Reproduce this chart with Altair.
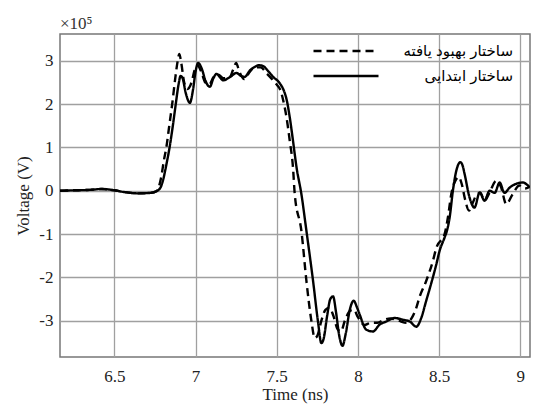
import altair as alt
import pandas as pd

series_names = ["ساختار بهبود یافته", "ساختار ابتدایی"]

t_initial = [6.165, 6.25, 6.35, 6.42, 6.50, 6.56, 6.64, 6.72, 6.76, 6.785, 6.80, 6.82, 6.84, 6.86,
             6.878, 6.895, 6.908, 6.92, 6.94, 6.965, 6.985, 7.0, 7.016, 7.04, 7.06, 7.088, 7.11,
             7.13, 7.15, 7.17, 7.21, 7.252, 7.28, 7.303, 7.335, 7.365, 7.39, 7.416, 7.45, 7.478,
             7.519, 7.545, 7.56, 7.58, 7.60, 7.622, 7.652, 7.683, 7.724, 7.754, 7.775, 7.79, 7.81,
             7.83, 7.847, 7.865, 7.885, 7.905, 7.925, 7.95, 7.974, 7.995, 8.011, 8.052, 8.093,
             8.134, 8.175, 8.226, 8.278, 8.319, 8.36, 8.39, 8.42, 8.45, 8.483, 8.503, 8.534, 8.55,
             8.565, 8.585, 8.606, 8.631, 8.645, 8.657, 8.688, 8.718, 8.75, 8.78, 8.811, 8.842,
             8.873, 8.903, 8.934, 8.975, 9.016, 9.057]
v_initial = [0.00, 0.01, 0.02, 0.04, 0.01, -0.03, -0.06, -0.05, -0.01, 0.08, 0.25, 0.6, 1.0, 1.5,
             2.0, 2.45, 2.65, 2.6, 2.25, 2.03, 2.35, 2.75, 2.95, 2.8, 2.55, 2.40, 2.6,
             2.7, 2.62, 2.55, 2.62, 2.72, 2.65, 2.63, 2.78, 2.86, 2.9, 2.88, 2.75, 2.63,
             2.48, 2.3, 2.12, 1.70, 1.16, 0.54, -0.08, -0.93, -2.09, -3.02, -3.52, -3.4, -2.9,
             -2.5, -2.44, -2.8, -3.35, -3.58, -3.3, -2.75, -2.54, -2.7, -2.86, -3.21, -3.25,
             -3.09, -3.02, -2.94, -2.98, -3.02, -3.14, -2.94, -2.55, -2.16, -1.70, -1.39, -1.08, -0.9,
             -0.62, 0.0, 0.46, 0.66, 0.58, 0.39, -0.16, -0.39, -0.04, -0.23, 0.0, -0.05,
             0.19, -0.05, 0.07, 0.16, 0.19, 0.08]

t_improved = [6.165, 6.25, 6.35, 6.42, 6.50, 6.56, 6.64, 6.72, 6.76, 6.77, 6.79, 6.805, 6.82, 6.838,
              6.856, 6.875, 6.89, 6.90, 6.912, 6.93, 6.95, 6.975, 6.995, 7.01, 7.035, 7.06, 7.085,
              7.11, 7.14, 7.17, 7.21, 7.23, 7.25, 7.27, 7.30, 7.335, 7.365, 7.40, 7.44, 7.47,
              7.50, 7.525, 7.539, 7.56, 7.58, 7.60, 7.611, 7.652, 7.683, 7.714, 7.734, 7.75, 7.775,
              7.80, 7.825, 7.85, 7.875, 7.895, 7.92, 7.95, 7.975, 8.0, 8.04, 8.08, 8.12, 8.16,
              8.2, 8.25, 8.30, 8.33, 8.36, 8.38, 8.42, 8.462, 8.483, 8.534, 8.555, 8.575, 8.606,
              8.62, 8.64, 8.66, 8.684, 8.705, 8.73, 8.755, 8.78, 8.81, 8.852, 8.88, 8.914, 8.95,
              8.995, 9.03, 9.057]
v_improved = [0.00, 0.01, 0.02, 0.04, 0.01, -0.03, -0.06, -0.05, -0.01, 0.05, 0.35, 0.7, 1.0, 1.5,
              2.0, 2.6, 3.0, 3.16, 2.95, 2.5, 2.35, 2.5, 2.8, 2.9, 2.75, 2.5, 2.45,
              2.62, 2.68, 2.6, 2.62, 2.78, 2.95, 2.75, 2.58, 2.75, 2.85, 2.85, 2.7, 2.58,
              2.45, 2.3, 2.1, 1.70, 1.16, 0.54, -0.08, -0.93, -2.09, -3.02, -3.40, -3.35, -3.0,
              -2.75, -2.7, -2.9, -3.2, -3.25, -3.0, -2.78, -2.75, -2.92, -3.1, -3.05, -3.05, -2.98,
              -2.95, -3.0, -3.05, -2.95, -2.7, -2.45, -2.09, -1.62, -1.32, -1.0, -0.6, -0.08, 0.27,
              0.32, 0.15, -0.2, -0.46, -0.3, -0.1, -0.05, -0.23, -0.05, 0.23, 0.1, -0.31, -0.1,
              0.12, 0.05, 0.09]

x_ticks = [6.5, 7, 7.5, 8, 8.5, 9]
y_ticks = [-3, -2, -1, 0, 1, 2, 3]
x_domain = [6.165, 9.06]
y_domain = [-3.84, 3.62]

df = pd.concat([
    pd.DataFrame({"t": t_improved, "v": v_improved, "s": series_names[0], "o": range(len(t_improved))}),
    pd.DataFrame({"t": t_initial, "v": v_initial, "s": series_names[1], "o": range(len(t_initial))}),
])

serif = "Liberation Serif"
arab = "Liberation Sans, DejaVu Sans, sans-serif"

chart = alt.Chart(df).mark_line(
    color="black", strokeWidth=2.4, interpolate="monotone", clip=True
).encode(
    x=alt.X("t:Q", scale=alt.Scale(domain=x_domain, nice=False, zero=False),
            axis=alt.Axis(values=x_ticks, title="Time (ns)", labelExpr="'' + datum.value")),
    y=alt.Y("v:Q", scale=alt.Scale(domain=y_domain, nice=False, zero=False),
            axis=alt.Axis(values=y_ticks, title="Voltage (V)", labelExpr="'' + datum.value")),
    strokeDash=alt.StrokeDash(
        "s:N",
        scale=alt.Scale(domain=series_names, range=[[8, 5], [1, 0]]),
        legend=alt.Legend(
            title=None, orient="none", legendX=278, legendY=9,
            symbolType="M-5,0H5", symbolSize=169, symbolStrokeWidth=2.5,
            symbolStrokeColor="black", labelFont=arab, labelFontSize=15,
            labelColor="black", labelAlign="right", labelOffset=159, rowPadding=9,
            padding=0,
        ),
    ),
    detail="s:N",
    order="o:Q",
).properties(
    width=470, height=323,
    background="white",
    title=alt.TitleParams("×10⁵", anchor="start", frame="group", font=serif,
                          fontSize=17, fontWeight="normal", color="#333", offset=1),
    autosize=alt.AutoSizeParams(type="none"),
    padding={"left": 60, "top": 34, "right": 3, "bottom": 57},
).configure_view(
    stroke="#777", strokeWidth=1.5
).configure_axis(
    grid=True, gridColor="#a0a0a0", gridWidth=1.3, domain=False, ticks=False,
    labelFont=serif, labelFontSize=17, labelColor="#222",
    titleFont=serif, titleFontSize=17, titleFontWeight="normal", titleColor="#222",
).configure_axisX(
    labelPadding=11, titlePadding=2
).configure_axisY(
    labelPadding=7, titlePadding=6
)

chart.save("out.html", embed_options={"renderer": "svg", "actions": False})
